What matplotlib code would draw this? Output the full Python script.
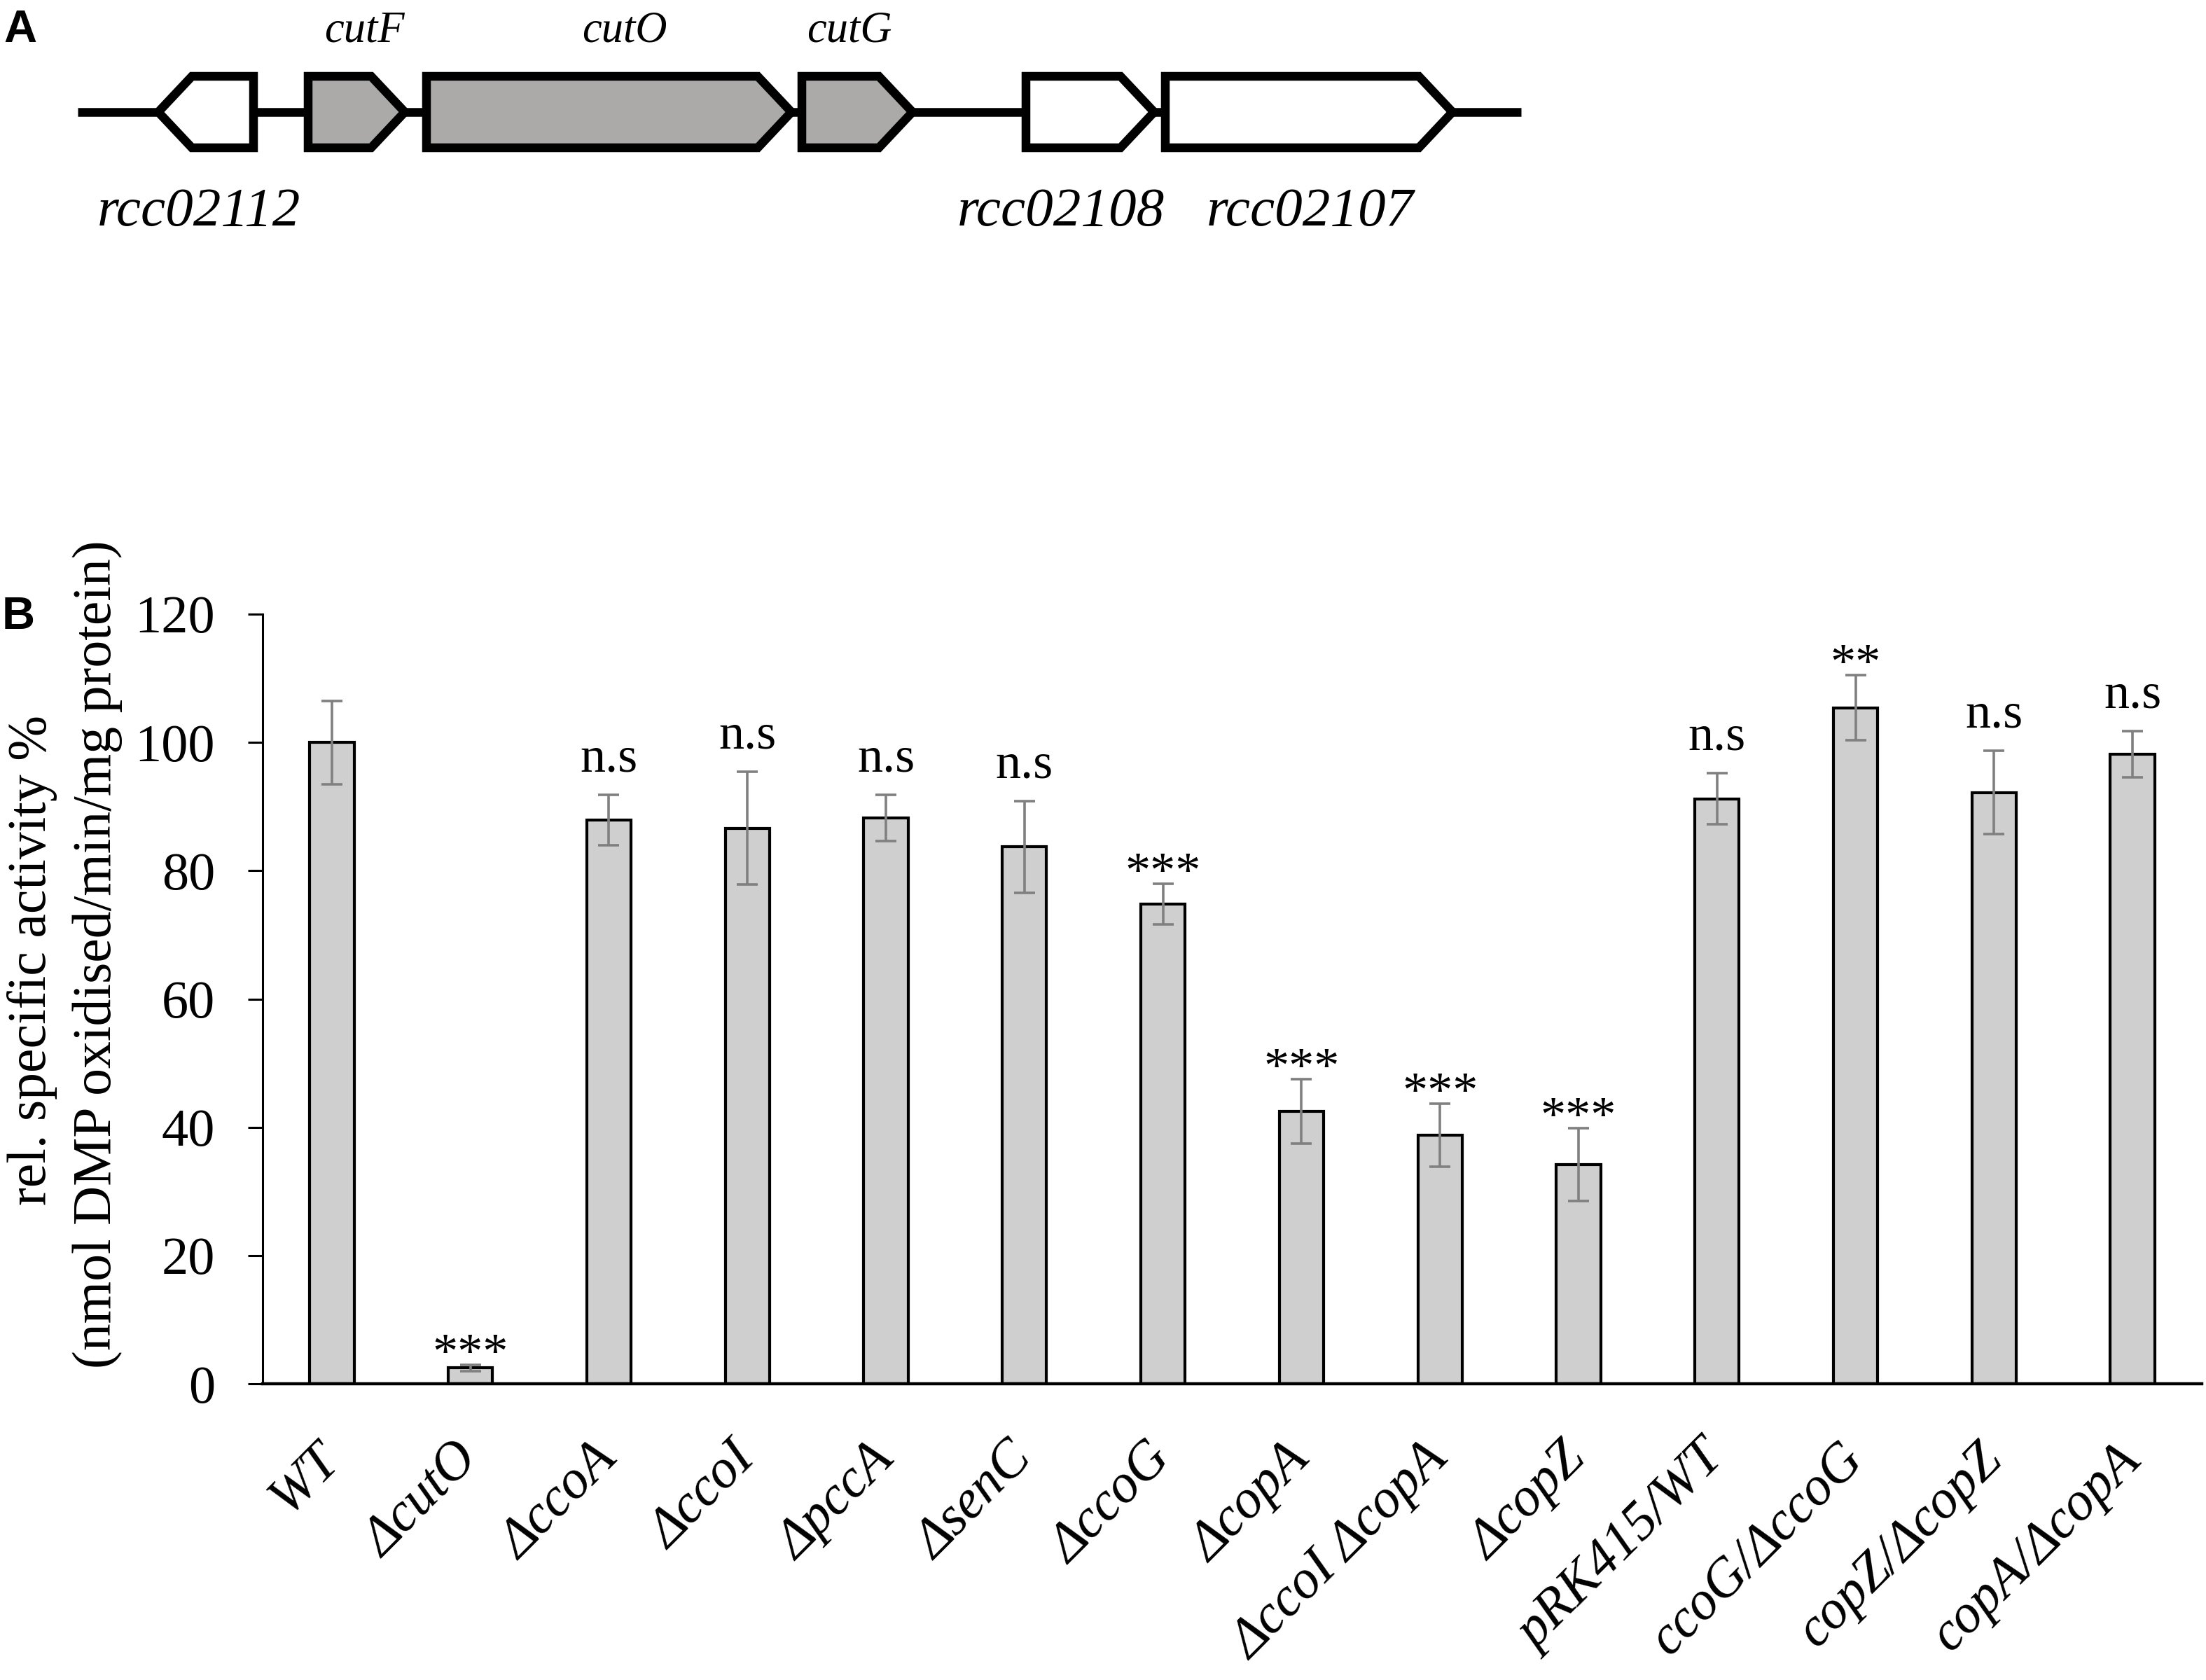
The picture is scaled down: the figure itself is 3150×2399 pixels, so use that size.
import matplotlib
matplotlib.use("Agg")
import matplotlib.pyplot as plt
from matplotlib.patches import Polygon
import numpy as np

# ---------------- data ----------------
categories = ["WT", "ΔcutO", "ΔccoA", "ΔccoI", "ΔpccA", "ΔsenC", "ΔccoG",
              "ΔcopA", "ΔccoI ΔcopA", "ΔcopZ", "pRK415/WT", "ccoG/ΔccoG",
              "copZ/ΔcopZ", "copA/ΔcopA"]
activity = [100.0, 2.5, 87.9, 86.6, 88.2, 83.7, 74.8,
            42.5, 38.8, 34.2, 91.2, 105.4, 92.2, 98.2]
errors = [6.5, 0.5, 3.9, 8.8, 3.6, 7.2, 3.2,
          5.0, 4.9, 5.7, 4.0, 5.1, 6.5, 3.6]
significance = ["", "***", "n.s", "n.s", "n.s", "n.s", "***",
                "***", "***", "***", "n.s", "**", "n.s", "n.s"]
yticks = [0, 20, 40, 60, 80, 100, 120]

# gene map (relative coordinates along the locus)
gene_names = ["rcc02112", "cutF", "cutO", "cutG", "rcc02108", "rcc02107"]
gene_start = [226, 440, 609, 1145, 1465, 1664]
gene_end = [362, 578, 1130, 1303, 1648, 2074]
gene_strand = [-1, 1, 1, 1, 1, 1]
gene_highlight = [False, True, True, True, False, False]
label_center = [284, 520, 892, 1213, 1515, 1871]
locus_start, locus_end = 111, 2172

# ---------------- figure ----------------
W, H = 3150, 2399
fig = plt.figure(figsize=(W / 100, H / 100), dpi=100)
serif = ["Liberation Serif", "DejaVu Serif"]
sans = ["Liberation Sans", "DejaVu Sans"]

# ---- Panel A: gene map ----
axA = fig.add_axes([0, 1 - 400 / H, 1, 400 / H])
axA.set_xlim(0, W)
axA.set_ylim(400, 0)
axA.axis("off")
yc, hh, head = 160, 51, 48
axA.plot([locus_start, locus_end], [yc, yc], color="black", lw=9, zorder=1,
         solid_capstyle="butt")
for name, s, e, strand, hl, lc in zip(gene_names, gene_start, gene_end,
                                      gene_strand, gene_highlight, label_center):
    if strand > 0:
        pts = [(s, yc - hh), (e - head, yc - hh), (e, yc), (e - head, yc + hh),
               (s, yc + hh)]
    else:
        pts = [(e, yc - hh), (s + head, yc - hh), (s, yc), (s + head, yc + hh),
               (e, yc + hh)]
    axA.add_patch(Polygon(pts, closed=True, facecolor="#aca9a9" if hl else "white",
                          edgecolor="black", lw=9, joinstyle="miter", zorder=2))
    if hl:
        axA.text(lc, 60, name, ha="center", va="baseline", style="italic",
                 fontsize=45, family=serif)
    else:
        axA.text(lc, 322, name, ha="center", va="baseline", style="italic",
                 fontsize=57, family=serif)

fig.text(5 / W, 1 - 60 / H, "A", fontsize=47, fontweight="bold", family=sans,
         ha="left", va="baseline")
fig.text(3 / W, 1 - 898 / H, "B", fontsize=47, fontweight="bold", family=sans,
         ha="left", va="baseline")

# ---- Panel B: bar chart ----
left, right = 375 / W, 3144 / W
bottom, top = 1 - 1976 / H, 1 - 877 / H
ax = fig.add_axes([left, bottom, right - left, top - bottom])
x = np.arange(len(categories))
ax.bar(x, activity, width=0.32, color="#d0cfd0", edgecolor="black",
       linewidth=3, zorder=2)
ax.errorbar(x, activity, yerr=errors, fmt="none", ecolor="#808080",
            elinewidth=2.6, capsize=11, capthick=2.6, zorder=3)
for xi, v, e, lab in zip(x, activity, errors, significance):
    if not lab:
        continue
    off = 24 if lab == "n.s" else -3
    ax.annotate(lab, xy=(xi, v + e), xytext=(0, off), textcoords="offset points",
                ha="center", va="baseline", fontsize=52, family=serif)

ax.set_xlim(-0.5, len(categories) - 0.5)
ax.set_ylim(0, 120)
ax.set_yticks(yticks)
ax.set_yticklabels([str(t) for t in yticks], family=serif, fontsize=55)
ax.set_xticks(x)
ax.set_xticklabels(categories, family=serif, style="italic", fontsize=56,
                   rotation=45, ha="right", va="center", rotation_mode="anchor")
ax.tick_params(axis="x", length=0, pad=70)
ax.tick_params(axis="y", length=15, width=2.2, direction="out", pad=34)
for sp in ["top", "right"]:
    ax.spines[sp].set_visible(False)
ax.spines["left"].set_linewidth(2.2)
ax.spines["bottom"].set_linewidth(3.2)
ax.set_facecolor("none")

fig.text(46 / W, 1 - 1371 / H, "rel. specific activity %", rotation=90,
         ha="center", va="center", fontsize=56, family=serif)
fig.text(139 / W, 1 - 1363 / H, "(nmol DMP oxidised/min/mg protein)", rotation=90,
         ha="center", va="center", fontsize=56, family=serif)

fig.savefig("out.png", dpi=100, facecolor="white")
